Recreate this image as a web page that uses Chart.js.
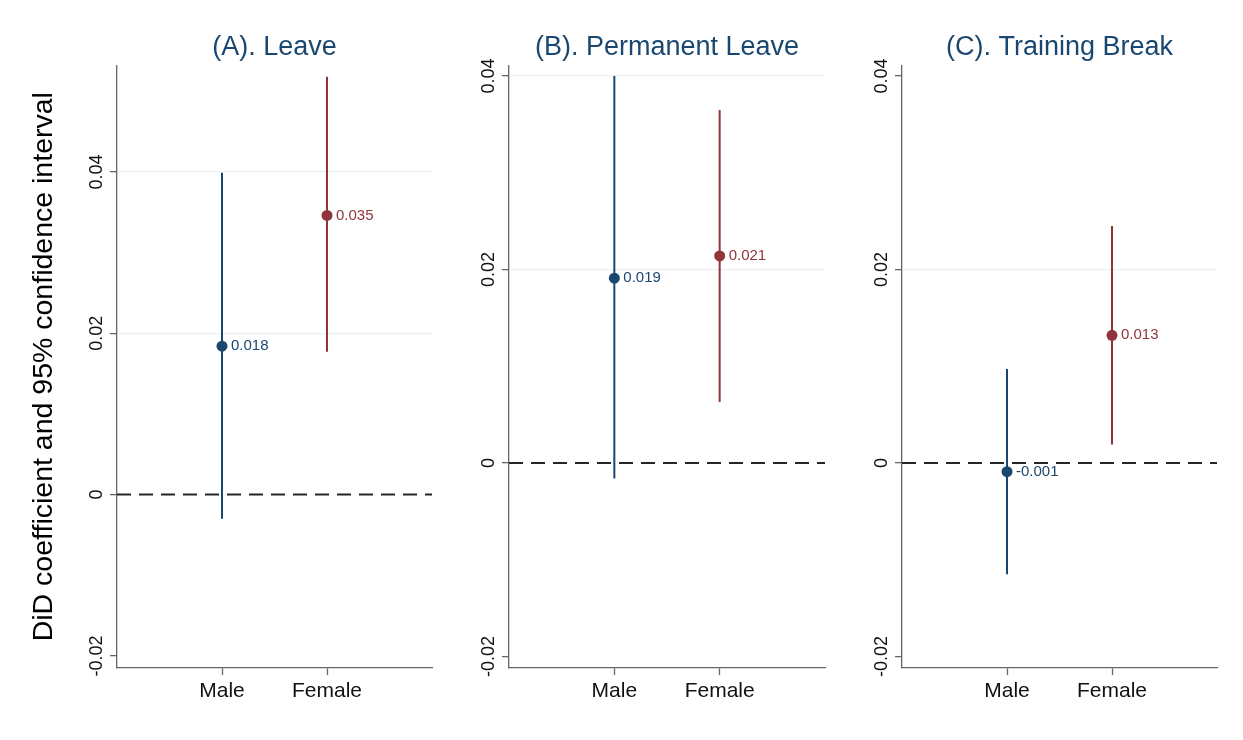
<!DOCTYPE html>
<html>
<head>
<meta charset="utf-8">
<script src="https://cdn.jsdelivr.net/npm/chart.js@4.4.1/dist/chart.umd.min.js"></script>
<style>
  body { margin: 0; background: #fff; }
  #wrap { position: relative; width: 1243px; height: 740px; }
  canvas { position: absolute; top: 0; }
</style>
</head>
<body>
<div id="wrap">
  <canvas id="panelA" width="440" height="740" style="left:0px"></canvas>
  <canvas id="panelB" width="392" height="740" style="left:440px"></canvas>
  <canvas id="panelC" width="411" height="740" style="left:832px"></canvas>
</div>
<script>
// data
const categories = ['Male', 'Female'];
const panelTitles = ['(A). Leave', '(B). Permanent Leave', '(C). Training Break'];
const yTickValues = [-0.02, 0, 0.02, 0.04];
const yAxisTitle = 'DiD coefficient and 95% confidence interval';

const leaveCoef = [0.0184, 0.0346];
const leaveLow = [-0.0030, 0.0177];
const leaveHigh = [0.0399, 0.0518];

const permCoef = [0.0191, 0.0214];
const permLow = [-0.0016, 0.0063];
const permHigh = [0.0400, 0.0365];

const trainCoef = [-0.0009, 0.0132];
const trainLow = [-0.0115, 0.0019];
const trainHigh = [0.0097, 0.0245];

const yMin = [-0.0215, -0.0212, -0.0212];
const yMax = [0.0532, 0.0411, 0.0411];
const gridTicks = [[0.02, 0.04], [0.02, 0.04], [0.02]];

const seriesColors = ['#1a476f', '#90353b'];

// layout of the three panels
const canvasIds = ['panelA', 'panelB', 'panelC'];
const yAxisWidth = [117, 69, 70];
const rightPad = [8, 7, 26];

Chart.defaults.font.family = 'Arial, "Liberation Sans", sans-serif';

const valueLabels = {
  id: 'valueLabels',
  afterDatasetsDraw(chart) {
    const ctx = chart.ctx;
    chart.data.datasets.forEach((ds, i) => {
      if (!ds.isCoef) return;
      chart.getDatasetMeta(i).data.forEach((pt, j) => {
        ctx.save();
        ctx.font = '15px Arial, "Liberation Sans", sans-serif';
        ctx.fillStyle = ds.backgroundColor;
        ctx.textBaseline = 'middle';
        ctx.textAlign = 'left';
        ctx.fillText(ds.data[j].y.toFixed(3), pt.x + 9, pt.y);
        ctx.restore();
      });
    });
  }
};

function makePanel(p, coef, low, high) {
  const datasets = [];
  categories.forEach((c, i) => {
    datasets.push({
      label: c + ' CI',
      data: [{ x: i + 1, y: low[i] }, { x: i + 1, y: high[i] }],
      showLine: true,
      borderColor: seriesColors[i],
      borderWidth: 2,
      pointRadius: 0,
      order: 1,
    });
    datasets.push({
      label: c,
      isCoef: true,
      data: [{ x: i + 1, y: coef[i] }],
      backgroundColor: seriesColors[i],
      borderWidth: 0,
      pointRadius: 5.5,
      order: 0,
    });
  });
  datasets.push({
    label: 'zero',
    data: [{ x: 0, y: 0 }, { x: categories.length + 1, y: 0 }],
    showLine: true,
    borderColor: '#262626',
    borderWidth: 2,
    borderDash: [14, 8],
    pointRadius: 0,
    order: 2,
  });

  new Chart(document.getElementById(canvasIds[p]), {
    type: 'scatter',
    data: { datasets },
    plugins: [valueLabels],
    options: {
      responsive: false,
      animation: false,
      devicePixelRatio: 1,
      layout: { padding: { left: 0, right: rightPad[p], top: 0, bottom: 0 } },
      plugins: {
        legend: { display: false },
        tooltip: { enabled: false },
        title: {
          display: true,
          text: panelTitles[p],
          color: '#1a476f',
          fullSize: false,
          font: { size: 27, weight: 'normal' },
          padding: { top: 31, bottom: 2 },
        },
      },
      scales: {
        x: {
          type: 'linear',
          min: 0,
          max: categories.length + 1,
          afterBuildTicks: (scale) => {
            scale.ticks = categories.map((c, i) => ({ value: i + 1 }));
          },
          afterFit: (scale) => { scale.height = 72; },
          ticks: {
            callback: (v, i) => categories[i],
            color: '#111',
            font: { size: 21 },
            padding: 4,
            maxRotation: 0,
          },
          grid: {
            drawOnChartArea: false,
            tickLength: 7,
            tickColor: '#666',
            tickWidth: 1.3,
          },
          border: { display: true, color: '#666', width: 1.3 },
        },
        y: {
          min: yMin[p],
          max: yMax[p],
          afterBuildTicks: (scale) => {
            scale.ticks = yTickValues.map((v) => ({ value: v }));
          },
          afterFit: (scale) => { scale.width = yAxisWidth[p]; },
          ticks: {
            callback: (v) => String(v),
            color: '#111',
            font: { size: 18 },
            minRotation: 90,
            maxRotation: 90,
            crossAlign: 'center',
            padding: -7.5,
          },
          grid: {
            color: (ctx) => (ctx.tick && gridTicks[p].includes(ctx.tick.value) ? '#e7f0f2' : 'rgba(0,0,0,0)'),
            lineWidth: 1.3,
            tickLength: 7,
            tickColor: '#666',
            tickWidth: 1.3,
          },
          border: { display: true, color: '#666', width: 1.3 },
          title: {
            display: p === 0,
            text: yAxisTitle,
            color: '#000',
            font: { size: 28.5 },
            padding: { top: 27, bottom: 0 },
          },
        },
      },
    },
  });
}

makePanel(0, leaveCoef, leaveLow, leaveHigh);
makePanel(1, permCoef, permLow, permHigh);
makePanel(2, trainCoef, trainLow, trainHigh);
</script>
</body>
</html>
